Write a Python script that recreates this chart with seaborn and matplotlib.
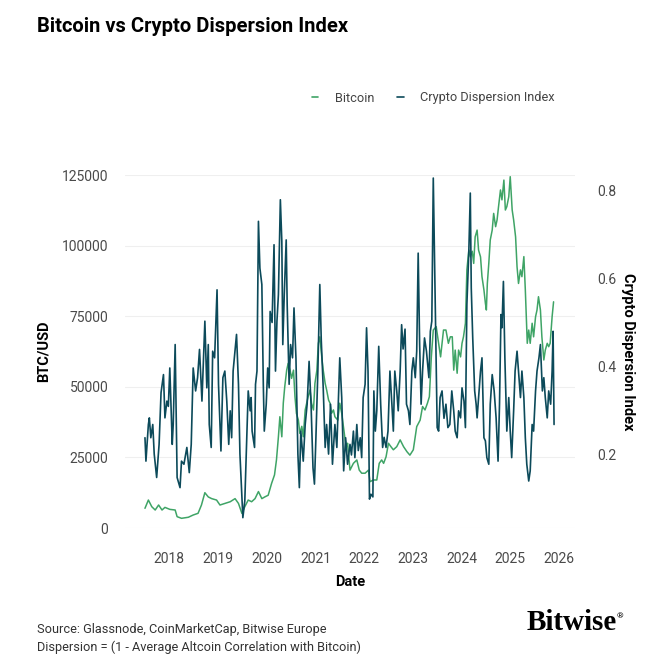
import matplotlib
matplotlib.use("Agg")
import matplotlib.pyplot as plt
import seaborn as sns
from matplotlib.lines import Line2D

# decimal years as placed on the reference's date axis
disp_year = [
    2017.50, 2017.52, 2017.57, 2017.59, 2017.62, 2017.66, 2017.69, 2017.74, 2017.79, 2017.83,
    2017.88, 2017.91, 2017.95, 2017.98, 2018.01, 2018.06, 2018.08, 2018.12, 2018.16, 2018.22,
    2018.25, 2018.30, 2018.36, 2018.41, 2018.45, 2018.49, 2018.54, 2018.58, 2018.62, 2018.67,
    2018.73, 2018.77, 2018.80, 2018.82, 2018.86, 2018.89, 2018.93, 2018.98, 2019.01, 2019.06,
    2019.10, 2019.14, 2019.18, 2019.22, 2019.25, 2019.28, 2019.31, 2019.38, 2019.42, 2019.45,
    2019.51, 2019.55, 2019.59, 2019.62, 2019.66, 2019.68, 2019.70, 2019.75, 2019.77, 2019.80,
    2019.83, 2019.86, 2019.90, 2019.93, 2019.95, 2019.99, 2020.02, 2020.05, 2020.07, 2020.11,
    2020.15, 2020.18, 2020.21, 2020.24, 2020.28, 2020.31, 2020.33, 2020.36, 2020.40, 2020.42,
    2020.46, 2020.49, 2020.53, 2020.56, 2020.60, 2020.64, 2020.67, 2020.70, 2020.75, 2020.79,
    2020.83, 2020.87, 2020.91, 2020.95, 2020.98, 2021.01, 2021.05, 2021.09, 2021.12, 2021.16,
    2021.20, 2021.23, 2021.27, 2021.31, 2021.35, 2021.40, 2021.44, 2021.50, 2021.54, 2021.58,
    2021.62, 2021.66, 2021.71, 2021.74, 2021.78, 2021.81, 2021.85, 2021.88, 2021.92, 2021.95,
    2021.98, 2022.02, 2022.05, 2022.08, 2022.11, 2022.14, 2022.18, 2022.20, 2022.23, 2022.26,
    2022.30, 2022.34, 2022.38, 2022.41, 2022.45, 2022.49, 2022.53, 2022.57, 2022.60, 2022.63,
    2022.67, 2022.70, 2022.74, 2022.77, 2022.80, 2022.84, 2022.87, 2022.91, 2022.94, 2022.98,
    2023.01, 2023.05, 2023.08, 2023.11, 2023.14, 2023.17, 2023.20, 2023.24, 2023.28, 2023.33,
    2023.36, 2023.39, 2023.42, 2023.45, 2023.48, 2023.50, 2023.53, 2023.56, 2023.60, 2023.64,
    2023.68, 2023.72, 2023.76, 2023.80, 2023.84, 2023.87, 2023.91, 2023.94, 2023.98, 2024.01,
    2024.05, 2024.08, 2024.11, 2024.15, 2024.18, 2024.20, 2024.23, 2024.27, 2024.30, 2024.32,
    2024.35, 2024.39, 2024.42, 2024.46, 2024.49, 2024.52, 2024.56, 2024.59, 2024.63, 2024.67,
    2024.71, 2024.75, 2024.78, 2024.81, 2024.83, 2024.86, 2024.89, 2024.93, 2024.97, 2025.00,
    2025.03, 2025.07, 2025.10, 2025.14, 2025.17, 2025.21, 2025.24, 2025.28, 2025.31, 2025.34,
    2025.38, 2025.41, 2025.45, 2025.48, 2025.52, 2025.55, 2025.59, 2025.62, 2025.66, 2025.69,
    2025.72, 2025.76, 2025.79, 2025.83, 2025.86, 2025.88, 2025.90,
]
disp_value = [
    0.239, 0.186, 0.269, 0.284, 0.239, 0.269, 0.202, 0.149, 0.224, 0.341,
    0.382, 0.284, 0.322, 0.310, 0.397, 0.224, 0.269, 0.450, 0.149, 0.126,
    0.186, 0.179, 0.217, 0.160, 0.224, 0.397, 0.345, 0.375, 0.439, 0.322,
    0.503, 0.352, 0.450, 0.269, 0.217, 0.435, 0.420, 0.574, 0.360, 0.209,
    0.375, 0.390, 0.322, 0.224, 0.300, 0.239, 0.390, 0.473, 0.360, 0.202,
    0.058, 0.096, 0.239, 0.345, 0.300, 0.330, 0.254, 0.217, 0.360, 0.390,
    0.729, 0.623, 0.586, 0.360, 0.254, 0.315, 0.397, 0.352, 0.525, 0.500,
    0.676, 0.390, 0.503, 0.563, 0.778, 0.684, 0.450, 0.563, 0.687, 0.541,
    0.360, 0.450, 0.420, 0.533, 0.420, 0.202, 0.126, 0.254, 0.186, 0.269,
    0.315, 0.412, 0.315, 0.171, 0.134, 0.239, 0.390, 0.586, 0.460, 0.352,
    0.217, 0.269, 0.202, 0.315, 0.179, 0.269, 0.217, 0.420, 0.330, 0.164,
    0.239, 0.179, 0.224, 0.200, 0.254, 0.194, 0.269, 0.210, 0.239, 0.194,
    0.330, 0.360, 0.488, 0.390, 0.100, 0.111, 0.105, 0.345, 0.254, 0.300,
    0.446, 0.315, 0.217, 0.240, 0.217, 0.254, 0.390, 0.315, 0.254, 0.390,
    0.345, 0.300, 0.390, 0.495, 0.440, 0.485, 0.315, 0.300, 0.269, 0.390,
    0.420, 0.375, 0.435, 0.657, 0.450, 0.315, 0.390, 0.465, 0.435, 0.375,
    0.480, 0.503, 0.827, 0.616, 0.390, 0.262, 0.254, 0.330, 0.345, 0.283,
    0.315, 0.262, 0.269, 0.345, 0.300, 0.254, 0.239, 0.300, 0.284, 0.352,
    0.322, 0.262, 0.541, 0.661, 0.793, 0.578, 0.465, 0.345, 0.315, 0.284,
    0.330, 0.390, 0.420, 0.239, 0.232, 0.194, 0.179, 0.315, 0.382, 0.345,
    0.284, 0.186, 0.315, 0.518, 0.488, 0.593, 0.420, 0.254, 0.330, 0.254,
    0.194, 0.300, 0.390, 0.435, 0.390, 0.330, 0.390, 0.330, 0.239, 0.179,
    0.141, 0.164, 0.269, 0.254, 0.345, 0.390, 0.420, 0.450, 0.345, 0.375,
    0.330, 0.284, 0.345, 0.315, 0.390, 0.480, 0.269,
]

btc_year = [
    2017.50, 2017.57, 2017.64, 2017.71, 2017.78, 2017.85, 2017.91, 2018.01, 2018.12, 2018.16,
    2018.25, 2018.39, 2018.49, 2018.59, 2018.66, 2018.73, 2018.80, 2018.87, 2018.97, 2019.04,
    2019.14, 2019.25, 2019.35, 2019.42, 2019.49, 2019.55, 2019.62, 2019.69, 2019.76, 2019.83,
    2019.90, 2019.96, 2020.03, 2020.10, 2020.16, 2020.20, 2020.24, 2020.27, 2020.31, 2020.34,
    2020.37, 2020.41, 2020.44, 2020.48, 2020.51, 2020.55, 2020.58, 2020.61, 2020.65, 2020.68,
    2020.72, 2020.75, 2020.79, 2020.82, 2020.85, 2020.89, 2020.92, 2020.96, 2020.99, 2021.03,
    2021.06, 2021.09, 2021.13, 2021.16, 2021.20, 2021.23, 2021.27, 2021.30, 2021.33, 2021.37,
    2021.40, 2021.46, 2021.50, 2021.54, 2021.61, 2021.64, 2021.66, 2021.71, 2021.78, 2021.85,
    2021.90, 2021.95, 2022.02, 2022.09, 2022.12, 2022.19, 2022.26, 2022.31, 2022.36, 2022.40,
    2022.45, 2022.50, 2022.55, 2022.60, 2022.67, 2022.74, 2022.81, 2022.88, 2022.94, 2023.01,
    2023.08, 2023.15, 2023.20, 2023.25, 2023.30, 2023.34, 2023.38, 2023.42, 2023.48, 2023.53,
    2023.57, 2023.63, 2023.68, 2023.73, 2023.77, 2023.81, 2023.84, 2023.87, 2023.91, 2023.94,
    2023.98, 2024.01, 2024.04, 2024.08, 2024.11, 2024.15, 2024.18, 2024.22, 2024.25, 2024.28,
    2024.32, 2024.35, 2024.39, 2024.42, 2024.46, 2024.49, 2024.51, 2024.53, 2024.56, 2024.59,
    2024.63, 2024.66, 2024.70, 2024.73, 2024.76, 2024.80, 2024.83, 2024.87, 2024.90, 2024.93,
    2024.97, 2025.00, 2025.04, 2025.07, 2025.11, 2025.14, 2025.17, 2025.21, 2025.24, 2025.28,
    2025.31, 2025.35, 2025.38, 2025.41, 2025.45, 2025.48, 2025.52, 2025.55, 2025.58, 2025.62,
    2025.65, 2025.69, 2025.72, 2025.76, 2025.79, 2025.82, 2025.86, 2025.89,
]
btc_price = [
    6970, 9900, 7540, 6370, 8140, 6370, 7300, 6600, 6370, 4010,
    3430, 3800, 4600, 5200, 8140, 12500, 11000, 10400, 9900, 8140,
    8700, 9300, 10400, 8700, 5200, 7540, 9900, 9300, 10400, 12900,
    10400, 11000, 11600, 15800, 18800, 24100, 32300, 39400, 32300, 44200,
    50000, 55900, 58300, 55900, 53000, 55900, 46500, 40600, 38200, 33500,
    36000, 32300, 41800, 44200, 46500, 48900, 44200, 41800, 51200, 55900,
    65400, 67700, 60600, 55900, 51200, 48900, 45300, 44200, 40600, 41800,
    39400, 38200, 44200, 40600, 31200, 28800, 30000, 20500, 22900, 24100,
    20500, 19400, 19400, 20500, 16400, 17000, 17000, 22900, 24100, 22900,
    25200, 30000, 28800, 27700, 28800, 31200, 28800, 27000, 25800, 27700,
    35900, 38200, 43000, 41800, 44200, 46500, 60600, 70100, 71300, 65400,
    60600, 70100, 70100, 65400, 67700, 67700, 55900, 63000, 54800, 63000,
    60600, 65400, 67700, 72500, 91400, 98400, 96000, 98000, 93700, 103100,
    105500, 98400, 96000, 89000, 84300, 79600, 77200, 86600, 93700, 102000,
    105500, 111400, 106700, 109100, 113800, 119700, 116200, 123200, 112600, 113800,
    117300, 124400, 112600, 109100, 103100, 92500, 86600, 91400, 89000, 96100,
    84300, 65400, 70100, 65400, 72500, 67700, 74800, 77200, 81900, 77200,
    67700, 59500, 63000, 65400, 64200, 65400, 74800, 80100,
]

year_ticks = [2018, 2019, 2020, 2021, 2022, 2023, 2024, 2025, 2026]
btc_ticks = [0, 25000, 50000, 75000, 100000, 125000]
disp_ticks = [0.2, 0.4, 0.6, 0.8]

green = "#3fa466"
teal = "#0c4a5a"
tick_grey = "#4a4a4a"

sns.set_theme(style="white")
plt.rcParams["font.family"] = ["Roboto", "DejaVu Sans"]

fig = plt.figure(figsize=(6.71, 6.71), dpi=100)
ax1 = fig.add_axes([125 / 671, 1 - 528 / 671, 450 / 671, 353 / 671])
ax2 = ax1.twinx()

sns.lineplot(x=btc_year, y=btc_price, ax=ax1, color=green, linewidth=1.1, legend=False)
sns.lineplot(x=disp_year, y=disp_value, ax=ax2, color=teal, linewidth=1.2, legend=False)

ax1.set_xlim(2017.09, 2026.33)
ax1.set_ylim(0, 125000)
ax2.set_ylim(0.0346, 0.834)

ax1.set_xticks(year_ticks)
ax1.set_xticklabels([str(y) for y in year_ticks])
ax1.set_yticks(btc_ticks)
ax1.set_yticklabels([str(v) for v in btc_ticks])
ax2.set_yticks(disp_ticks)
ax2.set_yticklabels([f"{v:.1f}" for v in disp_ticks])

ax1.grid(axis="y", color="#efefef", linewidth=0.8)
ax1.grid(axis="x", visible=False)
ax2.grid(False)
for ax in (ax1, ax2):
    for s in ax.spines.values():
        s.set_visible(False)
    ax.tick_params(length=0, labelsize=10, colors=tick_grey)
ax1.tick_params(axis="y", pad=12)
ax1.tick_params(axis="x", pad=17)
ax2.tick_params(axis="y", pad=16)

ax1.set_xlabel("Date", fontsize=10.5, fontweight="bold", color="black", labelpad=7)
ax1.set_ylabel("BTC/USD", fontsize=10.5, fontweight="bold", color="black", labelpad=8)
ax2.set_ylabel("Crypto Dispersion Index", fontsize=10.5, fontweight="bold",
               color="black", rotation=270, labelpad=13)

handles = [Line2D([], [], color=green, linewidth=1.2),
           Line2D([], [], color=teal, linewidth=1.2)]
fig.legend(handles, ["Bitcoin", "Crypto Dispersion Index"], loc="center",
           bbox_to_anchor=(0.646, 1 - 98 / 671), ncol=2, frameon=False,
           fontsize=9.2, handlelength=0.5, handletextpad=1.3, columnspacing=1.8,
           labelcolor="#444444")

fig.text(37 / 671, 1 - 27 / 671, "Bitcoin vs Crypto Dispersion Index",
         fontsize=14.5, fontweight="bold", va="center", ha="left", color="black")
fig.text(37 / 671, 1 - 629 / 671, "Source: Glassnode, CoinMarketCap, Bitwise Europe",
         fontsize=9.2, va="center", ha="left", color="#333333")
fig.text(37 / 671, 1 - 647 / 671, "Dispersion = (1 - Average Altcoin Correlation with Bitcoin)",
         fontsize=9.2, va="center", ha="left", color="#333333")
fig.text(527 / 671, 1 - 623 / 671, "Bitwise", family=["Liberation Serif", "DejaVu Serif"],
         fontsize=21, fontweight="bold", va="center", ha="left", color="black")
fig.text(617 / 671, 1 - 616 / 671, "®", fontsize=6, va="center", ha="left", color="black")

fig.savefig("out.png", dpi=100)
